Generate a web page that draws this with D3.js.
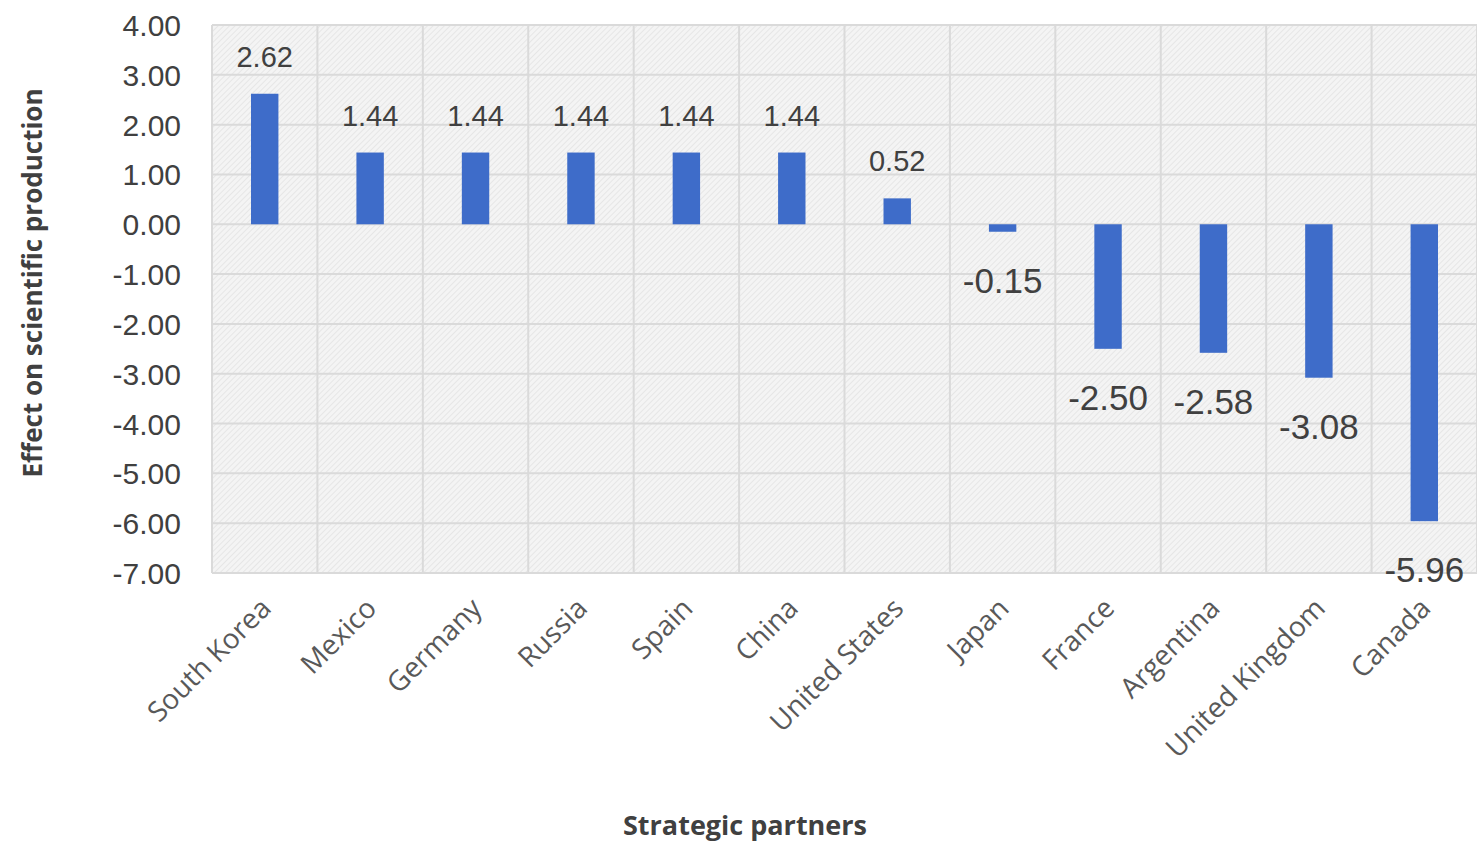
<!DOCTYPE html>
<html>
<head>
<meta charset="utf-8">
<script src="https://cdn.jsdelivr.net/npm/d3@7"></script>
<style>
  body { margin: 0; background: #fff; }
  svg { display: block; }
</style>
</head>
<body>
<div id="chart"></div>
<script>
const partners = ["South Korea", "Mexico", "Germany", "Russia", "Spain", "China",
  "United States", "Japan", "France", "Argentina", "United Kingdom", "Canada"];
const effects = [2.62, 1.44, 1.44, 1.44, 1.44, 1.44, 0.52, -0.15, -2.50, -2.58, -3.08, -5.96];
const yTicks = [4, 3, 2, 1, 0, -1, -2, -3, -4, -5, -6, -7];

const width = 1477, height = 842;
const margin = { top: 25, right: 0, bottom: 269, left: 212 };

const fmt = d => d3.format(".2f")(d).replace("\u2212", "-");

const svg = d3.select("#chart").append("svg")
  .attr("width", width)
  .attr("height", height);

// fine diagonal hatch for the plot background
const defs = svg.append("defs");
const pat = defs.append("pattern")
  .attr("id", "hatch")
  .attr("width", 4).attr("height", 4)
  .attr("patternUnits", "userSpaceOnUse")
  .attr("patternTransform", "rotate(45)");
pat.append("rect").attr("width", 4).attr("height", 4).attr("fill", "#f4f4f4");
pat.append("line").attr("x1", 0).attr("y1", 0).attr("x2", 0).attr("y2", 4)
  .attr("stroke", "#e6e6e6").attr("stroke-width", 2);

const x = d3.scaleBand()
  .domain(partners)
  .range([margin.left, width - margin.right]);

const y = d3.scaleLinear()
  .domain([-7, 4])
  .range([height - margin.bottom, margin.top]);

svg.append("rect")
  .attr("x", margin.left)
  .attr("y", margin.top)
  .attr("width", width - margin.left - margin.right)
  .attr("height", y(-7) - y(4))
  .attr("fill", "url(#hatch)");

// gridlines
const grid = svg.append("g").attr("stroke", "#dadada").attr("stroke-width", 2);
grid.selectAll("line.h")
  .data(yTicks)
  .join("line")
  .attr("class", "h")
  .attr("x1", margin.left).attr("x2", width)
  .attr("y1", d => y(d)).attr("y2", d => y(d));
grid.selectAll("line.v")
  .data(partners.concat(["__end"]))
  .join("line")
  .attr("class", "v")
  .attr("x1", (d, i) => margin.left + i * x.step())
  .attr("x2", (d, i) => margin.left + i * x.step())
  .attr("y1", y(4)).attr("y2", y(-7));

// y axis labels
const yAxis = svg.append("g")
  .attr("transform", `translate(${margin.left - 31},0)`)
  .call(d3.axisLeft(y).tickValues(yTicks).tickFormat(fmt).tickSize(0));
yAxis.select(".domain").remove();
yAxis.selectAll("text")
  .attr("x", 0)
  .attr("font-family", "Liberation Sans, Arial, sans-serif")
  .attr("font-size", 30)
  .attr("fill", "#404040")
  .attr("dy", "0.35em");

// bars
const barW = x.bandwidth() * 0.26;
svg.append("g")
  .selectAll("rect")
  .data(effects)
  .join("rect")
  .attr("x", (d, i) => x(partners[i]) + x.bandwidth() / 2 - barW / 2)
  .attr("y", d => y(Math.max(0, d)))
  .attr("width", barW)
  .attr("height", d => Math.abs(y(d) - y(0)))
  .attr("fill", "#3e6cc9");

// value labels
svg.append("g")
  .selectAll("text")
  .data(effects)
  .join("text")
  .attr("x", (d, i) => x(partners[i]) + x.bandwidth() / 2)
  .attr("y", d => d >= 0 ? y(d) - 27 : y(d) + 61)
  .attr("text-anchor", "middle")
  .attr("font-family", "Liberation Sans, Arial, sans-serif")
  .attr("font-size", d => d >= 0 ? 29 : 35)
  .attr("fill", "#404040")
  .text(fmt);

// category labels
svg.append("g")
  .selectAll("text")
  .data(partners)
  .join("text")
  .attr("transform", d => `translate(${x(d) + x.bandwidth() / 2 + 8},${y(-7) + 37}) rotate(-45)`)
  .attr("text-anchor", "end")
  .attr("font-family", "Open Sans, sans-serif")
  .attr("font-size", 28)
  .attr("fill", "#595959")
  .text(d => d);

// axis titles
svg.append("text")
  .attr("transform", `translate(42,283) rotate(-90)`)
  .attr("text-anchor", "middle")
  .attr("font-family", "Open Sans, sans-serif")
  .attr("font-weight", "bold")
  .attr("font-size", 26)
  .attr("fill", "#404040")
  .text("Effect on scientific production");

svg.append("text")
  .attr("x", 745)
  .attr("y", 835)
  .attr("text-anchor", "middle")
  .attr("font-family", "Open Sans, sans-serif")
  .attr("font-weight", "bold")
  .attr("font-size", 27)
  .attr("fill", "#404040")
  .text("Strategic partners");
</script>
</body>
</html>
